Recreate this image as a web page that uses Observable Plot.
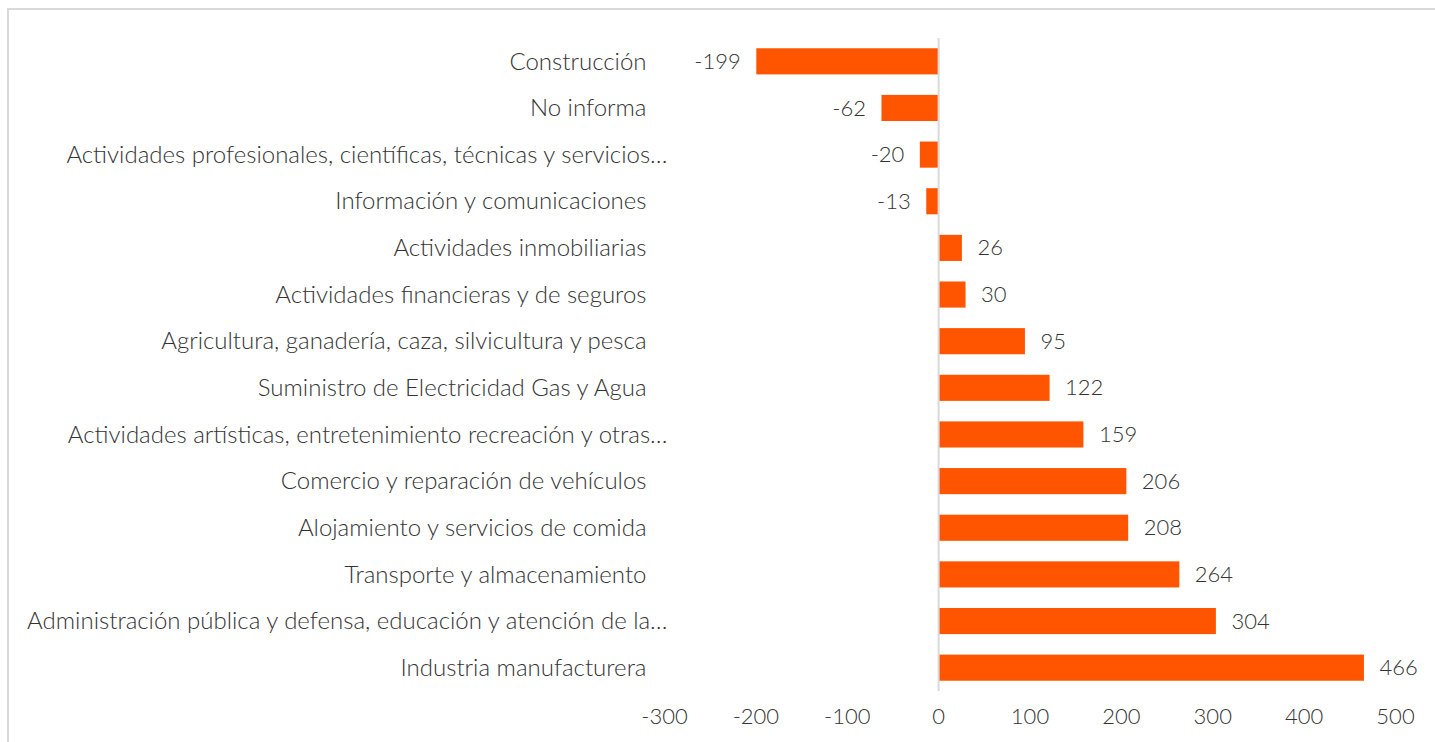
<!DOCTYPE html>
<html>
<head>
<meta charset="utf-8">
<script src="https://cdn.jsdelivr.net/npm/d3@7"></script>
<script src="https://cdn.jsdelivr.net/npm/@observablehq/plot@0.6"></script>
<style>
  html, body { margin: 0; padding: 0; background: #fff; overflow: hidden; }
  #wrap { position: relative; width: 1435px; height: 742px; }
  #frame { position: absolute; left: 7px; top: 8px; width: 1450px; height: 760px; border: 2px solid #d9d9d9; box-sizing: border-box; }
  #chart { position: absolute; left: 0; top: 0; }
</style>
</head>
<body>
<div id="wrap"><div id="frame"></div><div id="chart"></div></div>
<script>
const categories = [
  "Construcción",
  "No informa",
  "Actividades profesionales, científicas, técnicas y servicios…",
  "Información y comunicaciones",
  "Actividades inmobiliarias",
  "Actividades financieras y de seguros",
  "Agricultura, ganadería, caza, silvicultura y pesca",
  "Suministro de Electricidad Gas y Agua",
  "Actividades artísticas, entretenimiento recreación y otras…",
  "Comercio y reparación de vehículos",
  "Alojamiento y servicios de comida",
  "Transporte y almacenamiento",
  "Administración pública y defensa, educación y atención de la…",
  "Industria manufacturera"
];
const values = [-199, -62, -20, -13, 26, 30, 95, 122, 159, 206, 208, 264, 304, 466];
const xTicks = [-300, -200, -100, 0, 100, 200, 300, 400, 500];

const data = categories.map((c, i) => ({category: c, value: values[i]}));
const truncated = categories.filter(c => c.endsWith("…"));
const normal = categories.filter(c => !c.endsWith("…"));

const font = "Lato, 'Open Sans', sans-serif";
const textColor = "#333333";

const chart = Plot.plot({
  width: 1435,
  height: 742,
  marginTop: 38,
  marginBottom: 51,
  marginLeft: 664,
  marginRight: 40,
  style: {fontFamily: font, fontSize: "22px", fontWeight: 300, color: textColor, background: "transparent"},
  x: {domain: [-300, 500], ticks: xTicks},
  y: {domain: categories, paddingInner: 0.44, paddingOuter: 0.22, round: false},
  marks: [
    Plot.barX(data, {x: "value", y: "category", fill: "#ff5500"}),
    Plot.ruleX([0], {stroke: "#d9d9d9", strokeWidth: 2}),
    Plot.text(data.filter(d => d.value >= 0), {x: "value", y: "category", text: d => String(d.value), dx: 15, textAnchor: "start", fill: textColor, fontSize: 22}),
    Plot.text(data.filter(d => d.value < 0), {x: "value", y: "category", text: d => String(d.value), dx: -16, textAnchor: "end", fill: textColor, fontSize: 22}),
    Plot.axisX(xTicks, {tickSize: 0, tickPadding: 17, label: null, fill: textColor, fontSize: 22, tickFormat: d => String(d)}),
    Plot.axisY(normal, {tickSize: 0, tickPadding: 0, dx: -18, label: null, fill: textColor, fontSize: 24}),
    Plot.axisY(truncated, {tickSize: 0, tickPadding: 0, dx: 3, label: null, fill: textColor, fontSize: 24})
  ]
});
document.getElementById("chart").appendChild(chart);
</script>
</body>
</html>
